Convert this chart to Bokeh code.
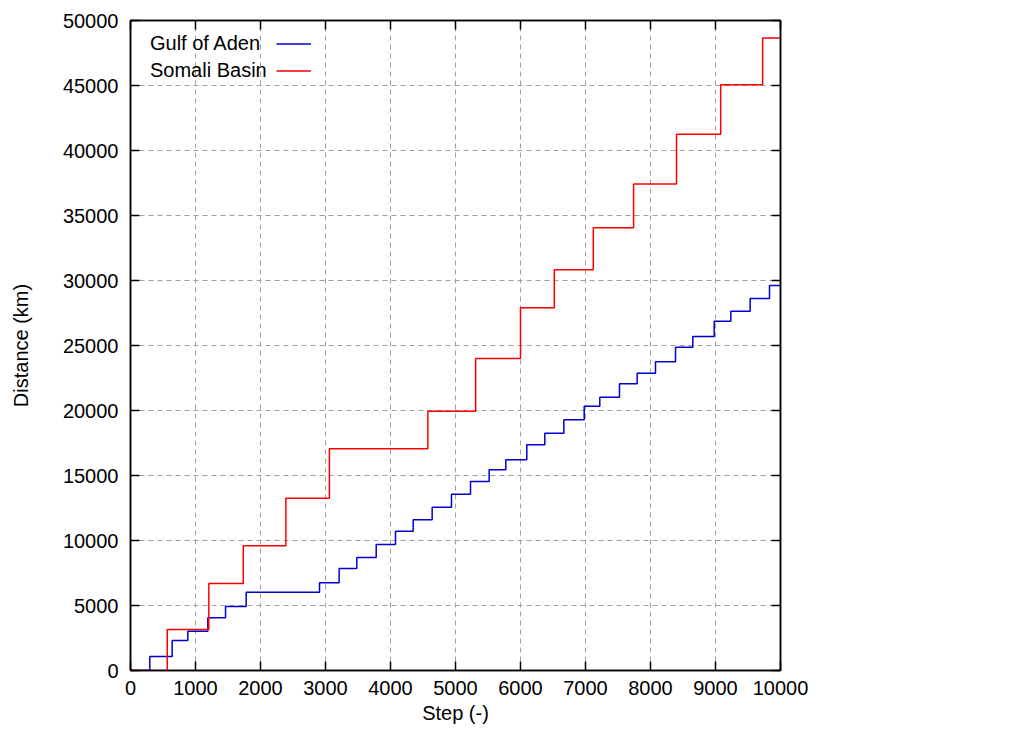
from bokeh.plotting import figure
from bokeh.models import (LinearAxis, Range1d, FixedTicker, Legend, LegendItem, CustomJSTickFormatter)
from bokeh.embed import file_html
from bokeh.resources import INLINE

# ---- data ----
somali_step = [0, 565, 1205, 1735, 2390, 3060, 4575, 5310, 6000, 6520, 7120, 7740, 8400, 9080, 9725, 10000]
somali_dist = [0, 3150, 6700, 9600, 13250, 17050, 19950, 24000, 27900, 30820, 34050, 37430, 41250, 45050, 48650, 48650]

aden_step = [0, 297, 641, 882, 1190, 1462, 1780, 2908, 3210, 3482, 3780, 4077, 4349, 4641, 4938, 5231,
             5518, 5774, 6097, 6374, 6667, 6980, 7220, 7523, 7795, 8077, 8385, 8651, 8980, 9236, 9533,
             9831, 10000]
aden_dist = [0, 1077, 2300, 3025, 4050, 4923, 6025, 6746, 7845, 8692, 9692, 10718, 11590, 12564, 13564,
             14538, 15436, 16205, 17359, 18256, 19282, 20333, 21026, 22051, 22872, 23744, 24872, 25692,
             26872, 27641, 28615, 29615, 29615]

x_ticks = [0, 1000, 2000, 3000, 4000, 5000, 6000, 7000, 8000, 9000, 10000]
y_ticks = [0, 5000, 10000, 15000, 20000, 25000, 30000, 35000, 40000, 45000, 50000]

series_labels = ["Gulf of Aden", "Somali Basin"]
series_colors = ["#0000d0", "#ff0000"]

FONT = "Liberation Sans"
FS = "20px"

p = figure(width=1014, height=738, output_backend="svg", toolbar_location=None,
           x_range=Range1d(0, 10000), y_range=Range1d(0, 50000),
           min_border_left=130, min_border_right=234, min_border_top=20, min_border_bottom=68)
p.background_fill_color = "white"
p.border_fill_color = "white"
p.outline_line_color = "black"
p.outline_line_width = 1.5

r_aden = p.step(aden_step, aden_dist, mode="after", line_color=series_colors[0], line_width=1.5)
r_som = p.step(somali_step, somali_dist, mode="after", line_color=series_colors[1], line_width=1.5)
ghost = p.line([], [], line_alpha=0)

def style_axis(ax, ticks, show_labels=True):
    ax.ticker = FixedTicker(ticks=ticks)
    ax.major_tick_in = 9
    ax.major_tick_out = 0
    ax.minor_tick_line_color = None
    ax.axis_line_color = "black"
    ax.axis_line_width = 1.5
    ax.major_tick_line_color = "black"
    ax.major_tick_line_width = 1.5
    ax.major_label_text_font = FONT
    ax.major_label_text_font_size = FS
    ax.major_label_text_color = "black"
    ax.axis_label_text_font = FONT
    ax.axis_label_text_font_size = FS
    ax.axis_label_text_font_style = "normal"
    ax.axis_label_text_color = "black"
    if not show_labels:
        ax.formatter = CustomJSTickFormatter(code="return ''")
        ax.major_label_standoff = 0

xa = p.xaxis[0]
ya = p.yaxis[0]
style_axis(xa, x_ticks)
style_axis(ya, y_ticks)
xa.axis_label = "Step (-)"
ya.axis_label = "Distance (km)"
xa.major_label_standoff = 10
xa.axis_label_standoff = 4
ya.major_label_standoff = 12
ya.axis_label_standoff = 28
ya.major_label_orientation = "horizontal"

top_ax = LinearAxis()
style_axis(top_ax, x_ticks, show_labels=False)
p.add_layout(top_ax, "above")
right_ax = LinearAxis()
style_axis(right_ax, y_ticks, show_labels=False)
p.add_layout(right_ax, "right")

for g in (p.xgrid[0], p.ygrid[0]):
    g.grid_line_color = "#a0a0a0"
    g.grid_line_dash = "5 4"
    g.grid_line_width = 1
p.xgrid[0].ticker = FixedTicker(ticks=x_ticks)
p.ygrid[0].ticker = FixedTicker(ticks=y_ticks)

# gnuplot-style key: text first, then the line sample (placed in the empty upper-left area)
common = dict(orientation="vertical", glyph_height=23, spacing=4,
              padding=0, margin=0, background_fill_alpha=0, border_line_color=None,
              label_text_font=FONT, label_text_font_size=FS, label_text_color="black")
legend_text = Legend(items=[LegendItem(label=series_labels[0], renderers=[ghost]),
                            LegendItem(label=series_labels[1], renderers=[ghost])],
                     location=(19, 588), glyph_width=1, label_standoff=0, label_width=0, **common)
legend_lines = Legend(items=[LegendItem(label=" ", renderers=[r_aden]),
                             LegendItem(label=" ", renderers=[r_som])],
                      location=(146, 588), glyph_width=35, label_standoff=0, label_width=0, **common)
p.add_layout(legend_text, "center")
p.add_layout(legend_lines, "center")

open("out.html", "w").write(file_html(p, INLINE))
